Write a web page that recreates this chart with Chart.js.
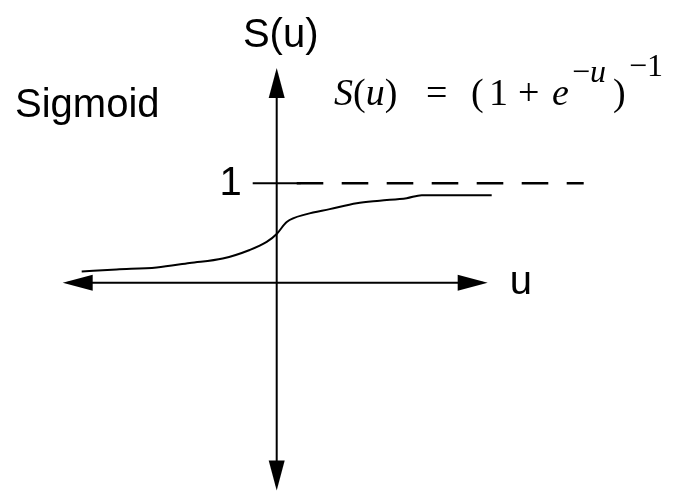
<!DOCTYPE html>
<html>
<head>
<meta charset="utf-8">
<script src="https://cdn.jsdelivr.net/npm/chart.js@4/dist/chart.umd.min.js"></script>
<style>
  body { margin: 0; background: #fff; }
  #wrap { width: 680px; height: 492px; position: relative; }
</style>
</head>
<body>
<div id="wrap"><canvas id="myChart"></canvas></div>
<script>
// sketched sigmoid curve
var uValues = [-1.95, -1.60, -1.20, -0.87, -0.54, -0.27, -0.10, 0, 0.10, 0.30, 0.53, 0.80, 1.03, 1.30, 1.45, 2.15];
var sValues = [0.113, 0.133, 0.153, 0.198, 0.243, 0.329, 0.41, 0.49, 0.61, 0.69, 0.74, 0.80, 0.825, 0.85, 0.88, 0.88];

// asymptote at S = 1: short solid tick across the axis, then dashes
var asymptote = 1;
var tickU = [-0.24, 0.24];
var dashU = [0.20, 3.07];

// axis extents (arrow tips)
var axisU = [-2.14, 2.11];
var axisS = [-2.09, 2.16];

var tickLabels = ['1'];

function pts(xs, ys) {
  return xs.map(function (x, i) { return { x: x, y: ys[i] }; });
}

var axesPlugin = {
  id: 'axes',
  beforeDatasetsDraw: function (chart) {
    var c = chart.ctx, xs = chart.scales.x, ys = chart.scales.y;
    var x0 = xs.getPixelForValue(0), y0 = ys.getPixelForValue(0);
    var xl = xs.getPixelForValue(axisU[0]), xr = xs.getPixelForValue(axisU[1]);
    var yt = ys.getPixelForValue(axisS[1]), yb = ys.getPixelForValue(axisS[0]);
    c.save();
    c.strokeStyle = '#000';
    c.fillStyle = '#000';
    c.lineWidth = 2;
    c.beginPath();
    c.moveTo(xl + 5, y0); c.lineTo(xr - 5, y0);
    c.moveTo(x0, yt + 5); c.lineTo(x0, yb - 5);
    c.stroke();
    var L = 30, W = 8;
    function head(tx, ty, dx, dy) {
      c.beginPath();
      c.moveTo(tx, ty);
      c.lineTo(tx - dx * L - dy * W, ty - dy * L - dx * W);
      c.lineTo(tx - dx * L + dy * W, ty - dy * L + dx * W);
      c.closePath();
      c.fill();
    }
    head(xr, y0, 1, 0);
    head(xl, y0, -1, 0);
    head(x0, yt, 0, -1);
    head(x0, yb, 0, 1);

    // text
    c.textBaseline = 'alphabetic';
    c.font = '40px "Liberation Sans", Arial, sans-serif';
    c.textAlign = 'center';
    c.fillText('S(u)', x0 + 4, yt - 21);
    c.textAlign = 'left';
    c.fillText('u', xr + 22, y0 + 11);
    c.fillText('Sigmoid', 15, 117);
    c.textAlign = 'right';
    c.fillText(tickLabels[0], xs.getPixelForValue(tickU[0]) - 11, ys.getPixelForValue(asymptote) + 12);

    // formula  S(u) = (1 + e^-u)^-1
    c.textAlign = 'left';
    var serif = '"Liberation Serif", "Times New Roman", serif';
    var big = 38, small = 32;
    function run(x, y, parts) {
      parts.forEach(function (p) {
        c.font = (p[1] ? 'italic ' : '') + p[2] + 'px ' + serif;
        c.fillText(p[0], x, y);
        x += c.measureText(p[0]).width;
      });
    }
    run(334, 105, [['S', 1, big], ['(', 0, big], ['u', 1, big], [')', 0, big]]);
    run(426, 105, [['=', 0, big]]);
    run(471, 105, [['(', 0, big]]);
    run(489, 105, [['1', 0, big]]);
    run(518, 105, [['+', 0, big]]);
    run(552, 105, [['e', 1, big]]);
    run(572, 82, [['\u2212', 0, small], ['u', 1, small]]);
    run(613, 105, [[')', 0, big]]);
    run(629, 76, [['\u2212', 0, small], ['1', 0, small]]);
    c.restore();
  }
};

var ctx = document.getElementById('myChart').getContext('2d');
var myChart = new Chart(ctx, {
  type: 'line',
  data: {
    datasets: [{
      label: 'S(u)',
      data: pts(uValues, sValues),
      borderColor: '#000',
      borderWidth: 2,
      pointRadius: 0,
      cubicInterpolationMode: 'monotone',
      fill: false
    },
    {
      label: 'tick',
      data: pts(tickU, [asymptote, asymptote]),
      borderColor: '#000',
      borderWidth: 2,
      pointRadius: 0,
      fill: false
    },
    {
      label: 'asymptote',
      data: pts(dashU, [asymptote, asymptote]),
      borderColor: '#000',
      borderWidth: 2.5,
      borderDash: [26.6, 18.4],
      pointRadius: 0,
      fill: false
    }]
  },
  options: {
    responsive: true,
    maintainAspectRatio: false,
    animation: false,
    layout: { padding: 0 },
    plugins: {
      legend: { display: false },
      tooltip: { enabled: false }
    },
    scales: {
      x: { type: 'linear', min: -2.767, max: 4.033, display: false },
      y: { type: 'linear', min: -2.106, max: 2.844, display: false }
    }
  },
  plugins: [axesPlugin]
});
</script>
</body>
</html>
